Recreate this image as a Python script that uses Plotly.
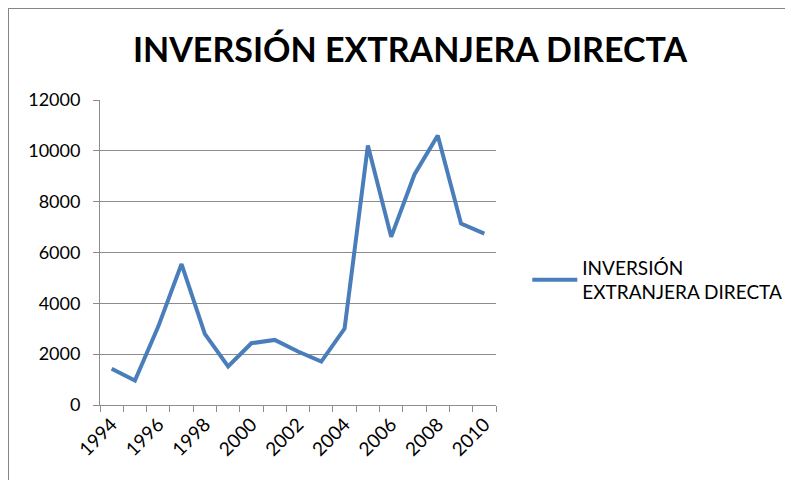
import plotly.graph_objects as go

years = list(range(1994, 2011))
ied = [1425, 965, 3085, 5545, 2800, 1515, 2430, 2560, 2105, 1710,
       3005, 10210, 6615, 9070, 10600, 7135, 6745]
series_name = "INVERSIÓN<br>EXTRANJERA DIRECTA"
title_text = "INVERSIÓN EXTRANJERA DIRECTA"

GRID = "#8c8c8c"
BLUE = "#4a7ebb"
FONT = "Lato, Open Sans, sans-serif"

# the page body has an 8px margin, so the figure is placed 8px in
L, T, W, H = 92, 92, 396, 305

fig = go.Figure()
fig.add_trace(go.Scatter(
    x=years, y=ied, mode="lines", name=series_name,
    line=dict(color=BLUE, width=4),
))

fig.update_layout(
    width=793, height=480,
    margin=dict(l=L, r=793 - L - W, t=T, b=480 - T - H),
    paper_bgcolor="white", plot_bgcolor="white",
    font=dict(family=FONT, size=18, color="black"),
    title=dict(text="<b>" + title_text + "</b>", x=402 / 793, xanchor="center",
               y=1 - 42 / 480, yanchor="middle",
               font=dict(family=FONT, size=34, color="black")),
    legend=dict(x=1.079, y=0.41, xanchor="left", yanchor="middle",
                itemwidth=45, font=dict(size=19), bgcolor="rgba(0,0,0,0)"),
    showlegend=True,
    shapes=[dict(type="rect", xref="paper", yref="paper",
                 x0=(0 - L) / W, x1=2.5, y0=-1, y1=1 + (T - 0) / H,
                 line=dict(color="#868686", width=2), fillcolor="rgba(0,0,0,0)")],
)

fig.update_xaxes(
    range=[1993.5, 2010.5], tickvals=years[::2], ticktext=[str(y) for y in years[::2]],
    tickangle=-45, ticks="", showgrid=False, zeroline=False,
    showline=True, linecolor=GRID, linewidth=1,
    minor=dict(tickvals=[y + 0.5 for y in range(1993, 2011)], ticks="outside",
               ticklen=6, tickcolor=GRID, showgrid=False),
    tickfont=dict(size=19),
)
fig.update_yaxes(
    range=[0, 12000], dtick=2000, tickformat="d", showgrid=True, gridcolor=GRID, gridwidth=1,
    zeroline=False, showline=True, linecolor=GRID, linewidth=1,
    ticks="outside", ticklen=6, tickcolor=GRID, tickfont=dict(size=18),
    ticklabelstandoff=9,
)

fig.write_html("out.html")
